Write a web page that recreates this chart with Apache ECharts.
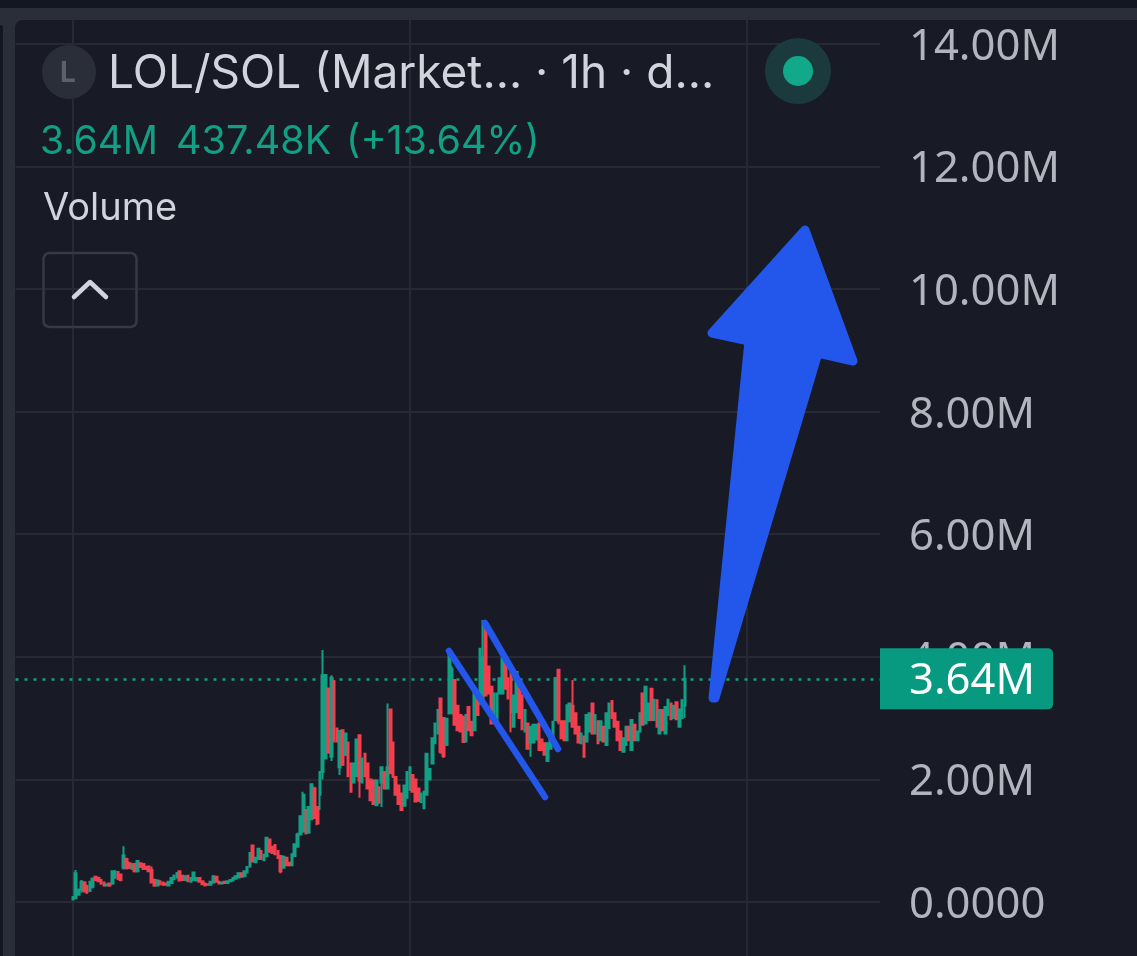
<!DOCTYPE html>
<html>
<head>
<meta charset="utf-8">
<style>
  html, body { margin: 0; padding: 0; background: #131722; }
  #chart { width: 1137px; height: 956px; }
</style>
<script src="https://cdn.jsdelivr.net/npm/echarts@6/dist/echarts.min.js"></script>
</head>
<body>
<div id="chart"></div>
<script>
// candles, in millions, one hourly bar each
const opens = [
  .04,.06,.12,.2,.32,.26,.18,.25,.41,.39, .36,.32,.27,.3,.3,.4,.49,.45,.56,.7,
  .63,.54,.62,.5,.63,.62,.57,.58,.52,.36, .27,.34,.32,.3,.27,.31,.37,.4,.5,.43,
  .36,.43,.33,.36,.35,.39,.34,.3,.29,.28, .32,.41,.33,.3,.33,.31,.34,.35,.38,.4,
  .47,.42,.48,.58,.92,.65,.7,.83,.68,.75, 1.02,.9,.93,.83,.75,.56,.72,.64,.6,.75,
  .9,1.1,1.15,1.5,1.13,1.35,1.85,1.55,1.75,2.12, 2.34,3.48,2.37,3.6,2.83,2.2,2.8,2.4,2.6,2.26,
  1.95,2.05,2.72,1.95,2.42,2.26,2,1.98,1.58,1.87, 1.95,2.12,1.85,3.14,2.6,2.04,1.9,1.77,1.57,1.7,
  1.83,2.07,2,1.85,1.63,1.53,1.75,2,2.26,2.59, 2.75,3.32,3,2.56,3.08,3.08,3.62,3.2,3.05,3.02,
  2.62,3.18,2.94,2.8,3.29,3.24,3.32,4.49,3.84,3.51, 2.97,2.97,3.4,3.4,3.89,3.65,3.75,2.86,3.1,3.48,
  3.37,2.78,2.91,2.6,2.6,2.65,2.91,2.65,2.59,2.3, 2.5,2.67,2.97,3.79,2.95,2.95,2.64,2.95,3.2,3.08,
  2.86,2.59,2.7,2.62,2.78,3.24,2.75,2.95,2.64,2.86, 2.56,2.84,3.28,3.08,2.94,2.78,2.45,2.56,2.86,2.48,
  2.89,2.64,2.78,3.4,2.91,2.97,3.48,2.97,3.29,2.75, 3.13,2.75,3.05,3.24,3,3.26,2.86,3,3.2
];
const closes = [
  .08,.47,.2,.33,.18,.16,.33,.38,.36,.34, .3,.27,.29,.27,.5,.5,.38,.36,.76,.55,
  .56,.62,.5,.67,.57,.54,.54,.5,.32,.27, .35,.29,.28,.28,.33,.39,.43,.47,.35,.36,
  .42,.34,.39,.48,.39,.33,.29,.27,.28,.33, .42,.33,.3,.32,.31,.34,.36,.39,.42,.47,
  .41,.5,.57,.8,.66,.72,.87,.7,.77,1.05, .83,.8,.78,.72,.5,.74,.6,.6,.78,.94,
  1.1,1.4,1.75,1.12,1.55,1.92,1.37,1.28,2.12,3.7, 3.7,2.44,3.66,2.62,2.62,2.79,2.24,2.75,2.05,1.8,
  2.26,2.65,1.98,2.34,2.05,1.85,1.66,1.6,1.98,1.62, 2.2,1.85,2.2,2.1,2.04,1.75,1.6,1.5,1.9,2.12,
  2.2,1.8,1.64,1.65,1.77,1.8,2.42,2.17,2.67,2.91, 3.13,2.45,2.38,2.99,4.05,3.8,2.89,2.8,2.78,2.61,
  3.05,2.8,2.72,3.4,3.05,4.13,4,3.37,3.4,2.91, 3.4,3.4,3.65,3.97,3.48,3.32,3.1,3.37,3.75,3,
  2.82,3.13,2.5,2.86,2.89,2.89,2.48,2.48,2.4,2.59, 2.72,2.94,3.65,2.95,2.67,2.64,3.21,3.24,2.86,2.75,
  2.6,2.75,2.37,3.05,3.08,2.75,3.05,2.59,2.95,2.62, 3.08,3.24,3,2.86,2.64,2.48,2.67,2.86,2.64,2.97,
  2.64,2.78,3.08,2.89,3.51,3.24,2.97,3.3,2.86,3.13, 2.8,3.18,3.3,2.98,3.2,2.98,3.14,3.29,3.64
];
const highs = [
  .08,.52,.22,.36,.34,.28,.34,.4,.42,.41, .37,.33,.3,.32,.5,.51,.5,.46,.91,.72,
  .66,.63,.63,.67,.64,.63,.58,.59,.58,.38, .37,.35,.33,.31,.34,.4,.45,.49,.5,.44,
  .43,.44,.4,.49,.4,.4,.35,.31,.3,.34, .43,.42,.34,.33,.34,.35,.37,.4,.43,.48,
  .48,.51,.58,.8,.93,.73,.87,.84,.78,1.05, 1.03,.91,.94,.84,.76,.76,.73,.65,.79,.95,
  1.13,1.41,1.8,1.5,1.56,1.92,1.88,1.56,2.13,4.11, 3.72,3.5,3.7,3.62,2.84,2.8,2.81,2.76,2.61,2.27,
  2.27,2.66,2.72,2.35,2.43,2.27,2.01,1.99,1.99,1.88, 2.21,2.13,3.24,3.15,2.61,2.05,1.91,1.78,1.91,2.13,
  2.21,2.08,2.01,1.86,1.78,1.81,2.43,2.18,2.68,2.92, 3.14,3.33,3.01,3,4.1,3.85,3.63,3.21,3.06,3.03,
  3.06,3.19,2.95,3.43,3.3,4.14,4.6,4.5,3.85,3.52, 3.41,3.41,3.66,3.97,3.9,3.66,3.76,3.38,3.76,3.49,
  3.38,3.14,2.92,2.87,2.9,2.9,2.92,2.66,2.6,2.6, 2.73,2.95,3.67,3.8,2.96,2.96,3.22,3.25,3.62,3.09,
  2.87,2.76,2.71,3.06,3.09,3.25,3.06,2.96,2.96,2.87, 3.09,3.25,3.29,3.09,2.95,2.79,2.68,2.87,2.87,2.98,
  2.9,2.79,3.09,3.41,3.52,3.25,3.49,3.31,3.3,3.14, 3.14,3.19,3.31,3.25,3.21,3.27,3.15,3.3,3.86
];
const lows = [
  .03,.05,.1,.15,.15,.13,.17,.22,.34,.33, .28,.26,.26,.25,.28,.38,.36,.34,.53,.53,
  .54,.53,.48,.48,.56,.53,.53,.49,.3,.25, .27,.28,.27,.27,.26,.3,.36,.39,.34,.35,
  .35,.33,.32,.35,.34,.32,.28,.26,.27,.27, .31,.32,.29,.29,.3,.3,.33,.34,.37,.39,
  .4,.41,.47,.56,.65,.64,.69,.69,.67,.73, .8,.79,.77,.7,.47,.55,.59,.59,.59,.74,
  .89,1.09,1.13,1.1,1.12,1.34,1.36,1.25,1.5,2, 2.34,2.42,2.3,2.6,2.6,2.07,2.22,2.38,2.04,1.79,
  1.94,2.04,1.7,1.94,2.04,1.84,1.65,1.59,1.57,1.61, 1.55,1.84,1.84,2.09,2.03,1.74,1.59,1.49,1.56,1.69,
  1.82,1.79,1.63,1.64,1.62,1.52,1.74,1.99,2.25,2.58, 2.74,2.42,2.35,2.55,3.06,3.07,2.88,2.79,2.77,2.6,
  2.61,2.79,2.71,2.79,3.04,3.23,3.31,3.36,3.39,2.9, 2.96,2.96,3.39,3.39,3.47,3.31,2.77,2.85,3.09,2.99,
  2.81,2.77,2.49,2.37,2.59,2.64,2.47,2.47,2.39,2.29, 2.49,2.66,2.96,2.9,2.66,2.63,2.63,2.94,2.85,2.74,
  2.59,2.58,2.36,2.61,2.77,2.74,2.74,2.58,2.63,2.61, 2.55,2.83,2.99,2.85,2.63,2.47,2.44,2.55,2.63,2.47,
  2.63,2.63,2.77,2.88,2.9,2.96,2.96,2.96,2.85,2.74, 2.79,2.74,3.04,2.97,2.99,2.97,2.85,2.99,3
];
const tickValues = [0, 2, 4, 6, 8, 10, 12, 14];
const tickLabels = ['0.0000', '2.00M', '4.00M', '6.00M', '8.00M', '10.00M', '12.00M', '14.00M'];
const lastPrice = 3.64;
const dayLines = [20, 140, 260];
const slotCount = 308;
const firstSlot = 20;

const up = '#12a085', down = '#f23f4e', blue = '#2356ea', gridColor = '#272a34';
const sans = '"Inter", "Noto Sans", sans-serif';

const slots = [];
for (let i = 0; i < slotCount; i++) slots.push('h' + i);
const candles = slots.map((s, i) => {
  const k = i - firstSlot;
  return k >= 0 && k < opens.length ? [opens[k], closes[k], lows[k], highs[k]] : '-';
});

function label(text, x, y, size, fill, extra) {
  return {
    type: 'text', z: 20, silent: true, x, y,
    style: Object.assign({ text, fill, font: '400 ' + size + 'px ' + sans, textVerticalAlign: 'middle' }, extra || {})
  };
}

const chrome = [
  { type: 'rect', z: -3, silent: true, shape: { x: 0, y: 8, width: 1137, height: 948 }, style: { fill: '#2a2e39' } },
  { type: 'rect', z: -2, silent: true, shape: { x: 0, y: 25, width: 3, height: 931, r: [0, 4, 0, 0] }, style: { fill: '#131722' } },
  { type: 'rect', z: -2, silent: true, shape: { x: 15, y: 20, width: 1122, height: 936, r: [8, 0, 0, 0] }, style: { fill: '#181b26' } }
];

const legend = [
  { type: 'circle', z: 20, silent: true, shape: { cx: 69, cy: 72, r: 27 }, style: { fill: '#2a2e39' } },
  label('L', 60, 74, 28, '#5d606b', { font: '700 28px ' + sans }),
  label('LOL/SOL (Market... · 1h · d...', 108, 74, 46, '#d1d4dc'),
  label('3.64M', 40, 142, 39, up),
  label('437.48K', 176, 142, 39.5, up),
  label('(+13.64%)', 346, 142, 39.5, up),
  label('Volume', 43, 209, 38, '#d1d4dc'),
  { type: 'rect', z: 20, silent: true, shape: { x: 43.5, y: 253, width: 93, height: 74, r: 6 }, style: { fill: 'transparent', stroke: '#363a45', lineWidth: 2.5 } },
  { type: 'polyline', z: 20, silent: true, shape: { points: [[74, 297], [90, 282], [106, 297]] }, style: { fill: 'none', stroke: '#d1d4dc', lineWidth: 4.5, lineCap: 'round', lineJoin: 'round' } },
  { type: 'circle', z: 20, silent: true, shape: { cx: 798, cy: 71, r: 33 }, style: { fill: '#1b3a3d' } },
  { type: 'circle', z: 21, silent: true, shape: { cx: 798, cy: 71, r: 15 }, style: { fill: '#12a98a' } }
];

// hand drawn annotations on top of the chart
const drawings = [
  { type: 'line', z: 30, silent: true, shape: { x1: 449, y1: 651, x2: 545, y2: 797 }, style: { stroke: blue, lineWidth: 6.5, lineCap: 'round' } },
  { type: 'line', z: 30, silent: true, shape: { x1: 485, y1: 623, x2: 558, y2: 749 }, style: { stroke: blue, lineWidth: 6.5, lineCap: 'round' } },
  { type: 'polygon', z: 30, silent: true,
    shape: { points: [[713, 698], [749, 341], [712, 333], [805, 230], [853, 361], [818, 353], [715, 698]] },
    style: { fill: blue, stroke: blue, lineWidth: 9, lineJoin: 'round' } }
];

const myChart = echarts.init(document.getElementById('chart'));
myChart.setOption({
  animation: false,
  backgroundColor: '#131722',
  grid: { left: 15.5, width: 864.5, top: 20, bottom: 0 },
  graphic: { elements: chrome.concat(legend, drawings) },
  xAxis: {
    type: 'category',
    data: slots,
    axisLine: { show: false },
    axisTick: { show: false },
    axisLabel: { show: false },
    splitLine: { show: false }
  },
  yAxis: {
    type: 'value',
    position: 'right',
    min: -0.881,
    max: 14.388,
    axisLine: { show: false },
    axisTick: { show: false, customValues: tickValues },
    axisLabel: {
      margin: 29,
      padding: [7, 0, 0, 0],
      customValues: tickValues,
      formatter: v => '{t|' + tickLabels[tickValues.indexOf(v)] + '}',
      rich: { t: { color: '#b2b5be', fontFamily: '"Noto Sans", sans-serif', fontSize: 43.6, lineHeight: 50 } }
    },
    splitLine: { lineStyle: { color: gridColor, width: 2 } }
  },
  series: [{
    type: 'candlestick',
    data: candles,
    barWidth: 2.2,
    clip: false,
    itemStyle: { color: up, color0: down, borderColor: up, borderColor0: down, borderWidth: 2 },
    markLine: {
      silent: true,
      z: 1,
      symbol: 'none',
      animation: false,
      data: dayLines.map(i => ({
        xAxis: i,
        label: { show: false },
        lineStyle: { color: gridColor, width: 2, type: 'solid' }
      })).concat([{
        yAxis: lastPrice,
        lineStyle: { color: up, width: 2.5, type: [3, 6] },
        label: {
          show: true,
          position: 'end',
          distance: 0,
          formatter: '{t|3.64M}',
          backgroundColor: '#089981',
          borderRadius: [0, 5, 5, 0],
          padding: [6, 18, 0, 29],
          rich: { t: { color: '#ffffff', fontFamily: '"Noto Sans", sans-serif', fontSize: 43.6, lineHeight: 55 } }
        }
      }])
    }
  }]
});
window.onresize = function() {
  myChart.resize();
};
</script>
</body>
</html>
